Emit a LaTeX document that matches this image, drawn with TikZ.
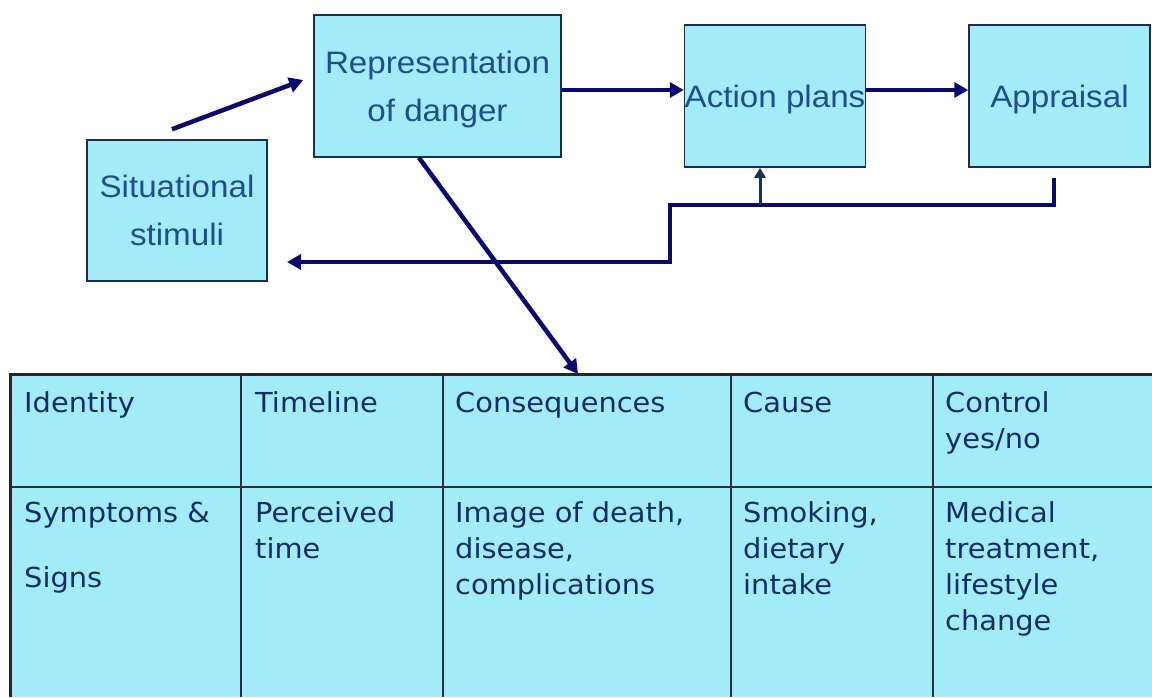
\documentclass[tikz,border=0pt]{standalone}
\usepackage{fontspec}
\setmainfont{Liberation Sans}
\newfontfamily\boxfont[FakeStretch=1.07]{Liberation Sans}
\newfontfamily\cellfont[FakeStretch=1.05]{DejaVu Sans}
\usetikzlibrary{arrows.meta,calc}

\definecolor{boxfill}{HTML}{A2ECFA}
\definecolor{boxline}{HTML}{1E2D4A}
\definecolor{boxtext}{HTML}{234C8C}
\definecolor{celltext}{HTML}{142C66}
\definecolor{arrowblue}{HTML}{0A0A6E}
\definecolor{upblue}{HTML}{15325A}
\definecolor{gridline}{HTML}{2A2F38}

\begin{document}
\begin{tikzpicture}[x=1pt,y=-1pt,
  box/.style={draw=boxline, line width=1.5pt, fill=boxfill, text=boxtext,
    font=\boxfont\fontsize{31}{48}\selectfont, align=center, inner sep=0pt},
  arr/.style={draw=arrowblue, line width=4.5pt,
    -{Triangle[length=14pt,width=15pt]}},
  uparr/.style={draw=upblue, line width=3pt,
    -{Triangle[length=10pt,width=11pt]}},
  cell/.style={anchor=north west, inner sep=0pt, text=celltext,
    font=\cellfont\fontsize{27.5}{36}\selectfont, align=left},
  grid/.style={draw=gridline, line width=1.8pt}]

% page frame
\useasboundingbox (0,0) rectangle (1152,697);
\fill[white] (0,0) rectangle (1152,697);

% upper flow boxes
\node[box, minimum width=180pt, minimum height=141pt] (sit) at (177,210.5)
  {Situational\\stimuli};
\node[box, minimum width=247pt, minimum height=142pt, text depth=-2pt] (rep) at (437.5,86)
  {Representation\\of danger};
\node[box, minimum width=181pt, minimum height=142pt, text depth=0pt] (act) at (775,96)
  {Action plans};
\node[box, minimum width=181pt, minimum height=142pt, text depth=0pt] (app) at (1059.5,96)
  {Appraisal};

% illness representation table
\node[fill=boxfill, anchor=north west, inner sep=0pt,
  minimum width=1142pt, minimum height=323pt] (tbl) at (10,374) {};
\draw[grid] (10,487) -- (1152,487);
\foreach \cx in {241,443,731,933}
  \draw[grid] (\cx,374) -- (\cx,697);
\draw[line width=3pt, black!85] (tbl.south west) -- (tbl.north west) -- (1152,374);

% header row
\node[cell] (hid)  at (24,386.8)  {\strut Identity};
\node[cell] (htl)  at (255,386.8) {\strut Timeline};
\node[cell] (hcon) at (455,386.8) {\strut Consequences};
\node[cell] (hcau) at (743,386.8) {\strut Cause};
\node[cell] (hctl) at (945,386.8) {\strut Control\\yes/no};

% content row
\node[cell] (cid)  at (24,496.8)  {\strut Symptoms \&\\[29pt]Signs};
\node[cell] (ctl)  at (255,496.8) {\strut Perceived\\time};
\node[cell] (ccon) at (455,496.8) {\strut Image of death,\\disease,\\complications};
\node[cell] (ccau) at (743,496.8) {\strut Smoking,\\dietary\\intake};
\node[cell] (cctl) at (945,496.8) {\strut Medical\\treatment,\\lifestyle\\change};

% connectors
\coordinate (fbtop) at (670,205);
\coordinate (fbend) at (287,262);
\draw[arr] ($(sit.north)+(-5,-10)$) -- ($(rep.west)+(-10,-6)$);
\draw[arr] ($(rep.east)+(0,4)$) -- ($(act.west)+(0,-6)$);
\draw[arr] ($(act.east)+(0,-6)$) -- ($(app.west)+(0,-6)$);
\draw[arr] ($(app.south)+(-5.5,10)$) |- (fbtop) |- (fbend);
\draw[uparr] ($(act.south |- fbtop)+(-15,0)$) -- ($(act.south)+(-15,0)$);
\draw[arr] ($(rep.south)+(-18.5,0)$) -- ($(tbl.north west)+(568,0)$);

\end{tikzpicture}
\end{document}
